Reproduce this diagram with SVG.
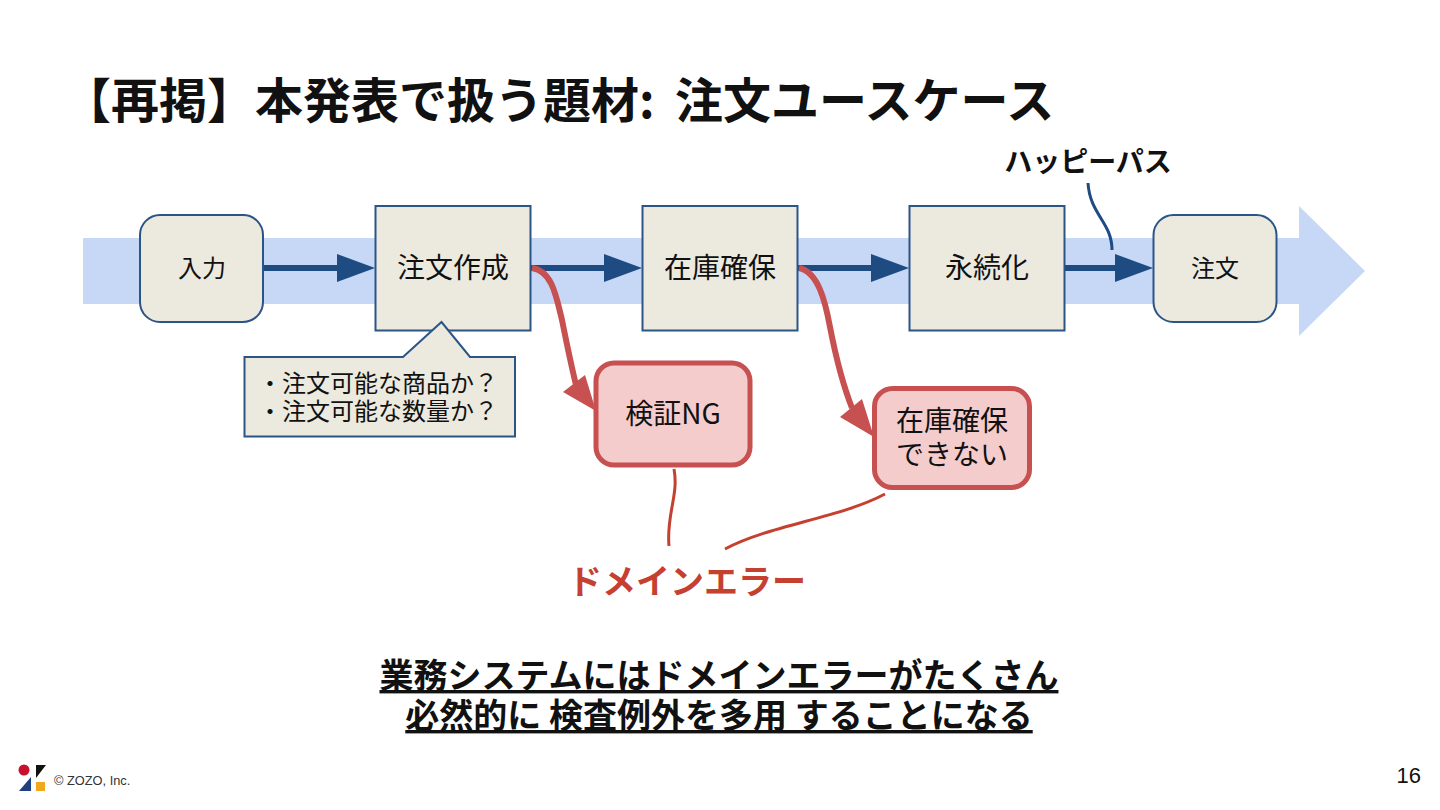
<svg xmlns="http://www.w3.org/2000/svg" width="1440" height="810" viewBox="0 0 1440 810">
<style>
text{font-family:"Noto Sans CJK JP","Noto Sans",sans-serif;fill:#111}
.n{fill:#ece9df;stroke:#2b5487;stroke-width:2}
.err{fill:#f4cccc;stroke:#c75050;stroke-width:5}
.l{font-size:28px;text-anchor:middle}
.s{font-size:24px;text-anchor:middle}
.c{font-size:24px}
.b{font-weight:700}
.u{font-size:34px;font-weight:700;text-anchor:middle;text-decoration:underline}
.flow{fill:none;stroke:#1f4b83;stroke-width:6}
.bad{fill:none;stroke:#c75050;stroke-width:6}
.lead{fill:none;stroke:#c5402f;stroke-width:3}
</style>
<defs>
<marker id="a" markerUnits="userSpaceOnUse" markerWidth="40" markerHeight="30" refX="18" refY="15" orient="auto"><path d="M0 1L38 15L0 29Z" fill="#1f4b83"/></marker>
</defs>
<rect width="1440" height="810" fill="#fff"/>
<text id="title" x="63" y="118" font-size="48" class="b">【再掲】本発表で扱う題材: <tspan x="675">注文ユースケース</tspan></text>
<path id="band" d="M83 238H1299V206L1365 271L1299 336V304H83Z" fill="#c6d8f6"/>
<g id="connectors">
<path class="flow" d="M263 268H355" marker-end="url(#a)"/>
<path class="flow" d="M530 268H622" marker-end="url(#a)"/>
<path class="flow" d="M798 268H889" marker-end="url(#a)"/>
<path class="flow" d="M1065 268H1133" marker-end="url(#a)"/>
<path class="bad" d="M532 268C552 271 556 295 562 320C566 340 570 360 576 385"/>
<path d="M563 392L596 411L585 375Z" fill="#c75050"/>
<path class="bad" d="M799 268C818 272 825 300 830 327C836 358 843 385 852 408"/>
<path d="M840 417L874 437L862 399Z" fill="#c75050"/>
<path d="M1088 183C1090 215 1112 222 1112 250" fill="none" stroke="#1f4b83" stroke-width="3"/>
<path class="lead" d="M674 469C679 495 666 515 669 546"/>
<path class="lead" d="M885 494C840 518 770 525 725 549"/>
</g>
<g id="input"><rect class="n" x="140" y="215" width="123" height="107" rx="20"/><text class="s" x="202" y="277">入力</text></g>
<g id="create"><rect class="n" x="375.500" y="206" width="155" height="124.500"/><text class="l" x="453" y="278">注文作成</text></g>
<g id="stock"><rect class="n" x="642.500" y="206" width="155" height="124.500"/><text class="l" x="720" y="278">在庫確保</text></g>
<g id="persist"><rect class="n" x="909.500" y="206" width="155" height="124.500"/><text class="l" x="987" y="278">永続化</text></g>
<g id="order"><rect class="n" x="1153.500" y="215" width="123" height="107" rx="20"/><text class="s" x="1215" y="277">注文</text></g>
<g id="callout"><path class="n" d="M244.500 357H403L441.500 322L470 357H515V436.500H244.500Z"/>
<text class="c" x="258" y="392">・注文可能な商品か？</text>
<text class="c" x="258" y="420">・注文可能な数量か？</text></g>
<g id="ng"><rect class="err" x="596" y="363" width="154" height="102" rx="18"/><text class="l" x="673" y="424">検証NG</text></g>
<g id="stockng"><rect class="err" x="874.500" y="388.500" width="155" height="99" rx="18"/><text class="l" x="952" y="431">在庫確保</text><text class="l" x="952" y="465">できない</text></g>
<text id="happy" class="b" x="1088" y="172" font-size="28" text-anchor="middle">ハッピーパス</text>
<text id="domain" class="b" x="687" y="594" font-size="34" text-anchor="middle" style="fill:#c5402f">ドメインエラー</text>
<text class="u" x="719" y="688">業務システムにはドメインエラーがたくさん</text>
<text class="u" x="719" y="728">必然的に 検査例外を多用 することになる</text>
<g id="logo"><circle cx="24" cy="770" r="5.500" fill="#c8102e"/><path d="M36 765H46L36 778Z" fill="#111"/><path d="M19 791L31 777V791Z" fill="#1f3f80"/><rect x="36" y="782" width="9" height="9" fill="#f0a81c"/></g>
<text id="copyright" x="54" y="785" font-size="12.800" style="font-family:'Liberation Sans',sans-serif;fill:#333">© ZOZO, Inc.</text>
<text id="page" x="1421" y="783" font-size="22" text-anchor="end" style="font-family:'Liberation Sans',sans-serif">16</text>
</svg>
